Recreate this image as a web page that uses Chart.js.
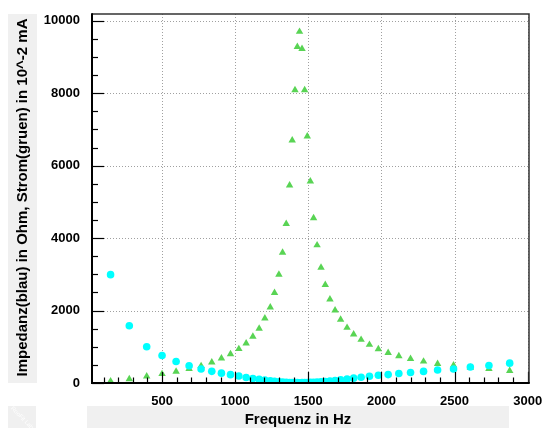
<!DOCTYPE html>
<html>
<head>
<meta charset="utf-8">
<script src="https://cdn.jsdelivr.net/npm/chart.js@4/dist/chart.umd.min.js"></script>
<style>
html,body{margin:0;padding:0;background:#fff;}
canvas{display:block;}
</style>
</head>
<body>
<canvas id="c" width="543" height="428"></canvas>
<script>
// Frequency (Hz) of each measurement
const freq = [148, 276, 395, 500, 596, 685, 767, 840, 906, 968, 1025, 1075, 1121, 1164, 1203, 1240, 1269, 1299, 1324, 1349, 1372, 1390, 1409, 1425, 1440, 1457, 1475, 1493, 1514, 1536, 1560, 1587, 1616, 1648, 1683, 1721, 1765, 1810, 1861, 1918, 1979, 2046, 2119, 2199, 2288, 2384, 2493, 2608, 2735, 2877];
// Impedance (blue/cyan) in Ohm
const impedance = [2990, 1582, 1001, 761, 595, 476, 385, 322, 272, 231, 195, 152, 124, 100, 80, 61, 45, 35, 27, 20, 15, 12, 10, 9, 8, 9, 10, 13, 16, 20, 26, 33, 42, 55, 70, 89, 106, 134, 160, 185, 212, 232, 263, 291, 320, 357, 388, 440, 484, 548];
// Current (green) in 10^-2 mA
const current = [50, 110, 185, 250, 315, 390, 470, 570, 680, 800, 940, 1095, 1280, 1500, 1785, 2090, 2490, 2990, 3600, 4395, 5455, 6700, 8083, 9281, 9696, 9226, 8083, 6810, 5566, 4550, 3804, 3187, 2708, 2310, 2006, 1748, 1527, 1342, 1195, 1057, 938, 835, 744, 669, 595, 531, 490, 425, 390, 335];

const xTicks = [500, 1000, 1500, 2000, 2500, 3000];
const yTicks = [0, 2000, 4000, 6000, 8000, 10000];
const xMinorTicks = [100, 200, 300, 400, 500, 600, 700, 800, 900, 1000, 1100, 1200, 1300, 1400, 1500, 1600, 1700, 1800, 1900, 2000, 2100, 2200, 2300, 2400, 2500, 2600, 2700, 2800, 2900, 3000];
const yMinorTicks = [0, 500, 1000, 1500, 2000, 2500, 3000, 3500, 4000, 4500, 5000, 5500, 6000, 6500, 7000, 7500, 8000, 8500, 9000, 9500, 10000];
const xRange = [21, 3009];
const yRange = [0, 10185];

const xTitle = 'Frequenz in Hz';
const yTitle = 'Impedanz(blau) in Ohm, Strom(gruen) in 10^-2 mA';

const FONT = "'Liberation Sans', Arial, Helvetica, sans-serif";

function line(ctx, x1, y1, x2, y2) {
  ctx.beginPath(); ctx.moveTo(x1, y1); ctx.lineTo(x2, y2); ctx.stroke();
}

const decor = {
  id: 'decor',
  beforeDraw(chart) {
    const ctx = chart.ctx;
    ctx.save();
    ctx.fillStyle = '#ffffff';
    ctx.fillRect(0, 0, chart.width, chart.height);
    ctx.fillStyle = '#f0f0f0';
    ctx.fillRect(8, 14, 29, 369);
    ctx.fillRect(87, 406, 422, 22);
    ctx.fillRect(8, 406, 28, 22);
    ctx.save();
    ctx.translate(22, 418);
    ctx.rotate(Math.PI / 4);
    ctx.fillStyle = 'rgba(255,255,255,0.9)';
    ctx.font = '6px ' + FONT;
    ctx.textAlign = 'center';
    ctx.textBaseline = 'middle';
    ctx.fillText('RooFit Lab', 0, 0);
    ctx.restore();
    ctx.fillStyle = '#000';
    ctx.font = 'bold 15px ' + FONT;
    ctx.textAlign = 'center';
    ctx.textBaseline = 'alphabetic';
    ctx.fillText(xTitle, 298, 424);
    ctx.save();
    ctx.translate(27, 197.5);
    ctx.rotate(-Math.PI / 2);
    ctx.fillText(yTitle, 0, 0);
    ctx.restore();
    ctx.restore();
  },
  beforeDatasetsDraw(chart) {
    const ctx = chart.ctx, a = chart.chartArea;
    const xs = chart.scales.x, ys = chart.scales.y;
    ctx.save();
    ctx.strokeStyle = '#a0a0a0';
    ctx.lineWidth = 1;
    ctx.setLineDash([1, 2]);
    xTicks.forEach(v => {
      const x = Math.round(xs.getPixelForValue(v)) + 0.5;
      line(ctx, x, a.top, x, a.bottom);
    });
    yTicks.forEach(v => {
      if (v === 0) return;
      const y = Math.round(ys.getPixelForValue(v)) + 0.5;
      line(ctx, a.left, y, a.right, y);
    });
    ctx.restore();
  },
  afterDraw(chart) {
    const ctx = chart.ctx, a = chart.chartArea;
    const xs = chart.scales.x, ys = chart.scales.y;
    ctx.save();
    ctx.setLineDash([]);
    ctx.strokeStyle = '#000000';
    ctx.lineWidth = 1.2;
    xMinorTicks.forEach(v => {
      const major = xTicks.indexOf(v) >= 0;
      const x = Math.round(xs.getPixelForValue(v)) + 0.5;
      line(ctx, x, a.bottom, x, a.bottom - (major ? 11 : 5.5));
    });
    yMinorTicks.forEach(v => {
      const major = yTicks.indexOf(v) >= 0;
      const y = Math.round(ys.getPixelForValue(v)) + 0.5;
      line(ctx, a.left, y, a.left + (major ? 12 : 6), y);
    });
    ctx.strokeStyle = '#333333';
    ctx.lineWidth = 1.5;
    ctx.beginPath();
    ctx.moveTo(a.left, a.top); ctx.lineTo(a.right, a.top); ctx.lineTo(a.right, a.bottom);
    ctx.stroke();
    ctx.strokeStyle = '#000000';
    ctx.lineWidth = 2;
    ctx.beginPath();
    ctx.moveTo(a.left, a.top - 0.75); ctx.lineTo(a.left, a.bottom); ctx.lineTo(a.right + 0.75, a.bottom);
    ctx.stroke();
    ctx.restore();
  }
};

const tickFont = { family: FONT, weight: 'bold', size: 13 };

new Chart(document.getElementById('c'), {
  type: 'scatter',
  data: {
    datasets: [
      {
        label: 'Impedanz',
        data: freq.map((f, i) => ({ x: f, y: impedance[i] })),
        backgroundColor: '#00ffff',
        borderColor: '#00ffff',
        borderWidth: 0,
        pointStyle: 'circle',
        pointRadius: 3.8,
        clip: 0
      },
      {
        label: 'Strom',
        data: freq.map((f, i) => ({ x: f, y: current[i] })),
        backgroundColor: '#59d454',
        borderColor: '#59d454',
        borderWidth: 0,
        pointStyle: 'triangle',
        pointRadius: 4.3,
        clip: false
      }
    ]
  },
  options: {
    responsive: false,
    animation: false,
    events: [],
    layout: { padding: { left: 0, top: 14, right: 14, bottom: 0 } },
    plugins: { legend: { display: false }, tooltip: { enabled: false } },
    scales: {
      x: {
        type: 'linear',
        min: xRange[0],
        max: xRange[1],
        grid: { display: false },
        border: { display: false },
        afterBuildTicks: s => { s.ticks = xTicks.map(v => ({ value: v })); },
        afterFit: s => { s.height = 45; s.paddingLeft = 0; s.paddingRight = 0; },
        ticks: { font: tickFont, color: '#000', padding: 3, maxRotation: 0, autoSkip: false, callback: v => String(v) }
      },
      y: {
        type: 'linear',
        min: yRange[0],
        max: yRange[1],
        grid: { display: false },
        border: { display: false },
        afterBuildTicks: s => { s.ticks = yTicks.map(v => ({ value: v })); },
        afterFit: s => { s.width = 92; s.paddingTop = 0; s.paddingBottom = 0; },
        ticks: { font: tickFont, color: '#000', padding: 4, autoSkip: false, callback: v => String(v) }
      }
    }
  },
  plugins: [decor]
});
</script>
</body>
</html>
